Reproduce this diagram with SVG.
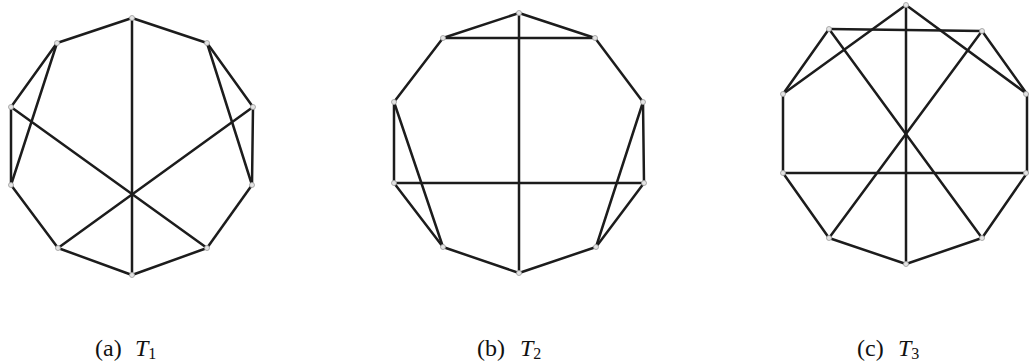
<svg xmlns="http://www.w3.org/2000/svg" width="1029" height="363" viewBox="0 0 1029 363">
<style>
.e{stroke:#1c1c1c;stroke-width:2.5;stroke-linecap:round;fill:none}
.v{fill:#e4e4e4;stroke:#9a9a9a;stroke-width:0.8}
.lab{font-family:"Liberation Serif","DejaVu Serif",serif;font-size:24px;fill:#111}
.it{font-style:italic}
.sub{font-size:16px}
</style>
<rect width="1029" height="363" fill="#fff"/>
<g id="connectors">
<g id="t1-edges">
<line class="e" x1="132" y1="18" x2="207" y2="43"/>
<line class="e" x1="207" y1="43" x2="253" y2="107"/>
<line class="e" x1="253" y1="107" x2="252" y2="185"/>
<line class="e" x1="252" y1="185" x2="207" y2="248"/>
<line class="e" x1="207" y1="248" x2="132" y2="275"/>
<line class="e" x1="132" y1="275" x2="58" y2="248"/>
<line class="e" x1="58" y1="248" x2="11" y2="185"/>
<line class="e" x1="11" y1="185" x2="11" y2="107"/>
<line class="e" x1="11" y1="107" x2="57" y2="43"/>
<line class="e" x1="57" y1="43" x2="132" y2="18"/>
<line class="e" x1="132" y1="18" x2="132" y2="275"/>
<line class="e" x1="57" y1="43" x2="11" y2="185"/>
<line class="e" x1="207" y1="43" x2="252" y2="185"/>
<line class="e" x1="11" y1="107" x2="207" y2="248"/>
<line class="e" x1="253" y1="107" x2="58" y2="248"/>
</g>
<g id="t2-edges">
<line class="e" x1="519" y1="13" x2="595" y2="38"/>
<line class="e" x1="595" y1="38" x2="643" y2="102"/>
<line class="e" x1="643" y1="102" x2="644" y2="183"/>
<line class="e" x1="644" y1="183" x2="596" y2="247"/>
<line class="e" x1="596" y1="247" x2="519" y2="273"/>
<line class="e" x1="519" y1="273" x2="443" y2="247"/>
<line class="e" x1="443" y1="247" x2="394" y2="183"/>
<line class="e" x1="394" y1="183" x2="394" y2="102"/>
<line class="e" x1="394" y1="102" x2="443" y2="38"/>
<line class="e" x1="443" y1="38" x2="519" y2="13"/>
<line class="e" x1="443" y1="38" x2="595" y2="38"/>
<line class="e" x1="519" y1="13" x2="519" y2="273"/>
<line class="e" x1="394" y1="183" x2="644" y2="183"/>
<line class="e" x1="394" y1="102" x2="443" y2="247"/>
<line class="e" x1="643" y1="102" x2="596" y2="247"/>
</g>
<g id="t3-edges">
<line class="e" x1="906" y1="5" x2="783" y2="94"/>
<line class="e" x1="906" y1="5" x2="1027" y2="94"/>
<line class="e" x1="906" y1="5" x2="906" y2="264"/>
<line class="e" x1="829" y1="29" x2="982" y2="31"/>
<line class="e" x1="829" y1="29" x2="783" y2="94"/>
<line class="e" x1="982" y1="31" x2="1027" y2="94"/>
<line class="e" x1="783" y1="94" x2="783" y2="173"/>
<line class="e" x1="1027" y1="94" x2="1027" y2="173"/>
<line class="e" x1="783" y1="173" x2="1027" y2="173"/>
<line class="e" x1="783" y1="173" x2="829" y2="238"/>
<line class="e" x1="1027" y1="173" x2="982" y2="238"/>
<line class="e" x1="829" y1="238" x2="906" y2="264"/>
<line class="e" x1="906" y1="264" x2="982" y2="238"/>
<line class="e" x1="829" y1="29" x2="982" y2="238"/>
<line class="e" x1="982" y1="31" x2="829" y2="238"/>
</g>
</g>
<g id="t1-v0"><circle class="v" cx="132" cy="18" r="2.5"/></g>
<g id="t1-v1"><circle class="v" cx="207" cy="43" r="2.5"/></g>
<g id="t1-v2"><circle class="v" cx="253" cy="107" r="2.5"/></g>
<g id="t1-v3"><circle class="v" cx="252" cy="185" r="2.5"/></g>
<g id="t1-v4"><circle class="v" cx="207" cy="248" r="2.5"/></g>
<g id="t1-v5"><circle class="v" cx="132" cy="275" r="2.5"/></g>
<g id="t1-v6"><circle class="v" cx="58" cy="248" r="2.5"/></g>
<g id="t1-v7"><circle class="v" cx="11" cy="185" r="2.5"/></g>
<g id="t1-v8"><circle class="v" cx="11" cy="107" r="2.5"/></g>
<g id="t1-v9"><circle class="v" cx="57" cy="43" r="2.5"/></g>
<g id="t2-v0"><circle class="v" cx="519" cy="13" r="2.5"/></g>
<g id="t2-v1"><circle class="v" cx="595" cy="38" r="2.5"/></g>
<g id="t2-v2"><circle class="v" cx="643" cy="102" r="2.5"/></g>
<g id="t2-v3"><circle class="v" cx="644" cy="183" r="2.5"/></g>
<g id="t2-v4"><circle class="v" cx="596" cy="247" r="2.5"/></g>
<g id="t2-v5"><circle class="v" cx="519" cy="273" r="2.5"/></g>
<g id="t2-v6"><circle class="v" cx="443" cy="247" r="2.5"/></g>
<g id="t2-v7"><circle class="v" cx="394" cy="183" r="2.5"/></g>
<g id="t2-v8"><circle class="v" cx="394" cy="102" r="2.5"/></g>
<g id="t2-v9"><circle class="v" cx="443" cy="38" r="2.5"/></g>
<g id="t3-v0"><circle class="v" cx="906" cy="5" r="2.5"/></g>
<g id="t3-v1"><circle class="v" cx="982" cy="31" r="2.5"/></g>
<g id="t3-v2"><circle class="v" cx="1026" cy="94" r="2.5"/></g>
<g id="t3-v3"><circle class="v" cx="1026" cy="173" r="2.5"/></g>
<g id="t3-v4"><circle class="v" cx="982" cy="238" r="2.5"/></g>
<g id="t3-v5"><circle class="v" cx="906" cy="264" r="2.5"/></g>
<g id="t3-v6"><circle class="v" cx="829" cy="238" r="2.5"/></g>
<g id="t3-v7"><circle class="v" cx="783" cy="173" r="2.5"/></g>
<g id="t3-v8"><circle class="v" cx="783" cy="94" r="2.5"/></g>
<g id="t3-v9"><circle class="v" cx="829" cy="29" r="2.5"/></g>
<g id="caption-a"><text class="lab" x="95" y="356">(a)</text><text class="lab" y="356"><tspan class="it" x="135">T</tspan><tspan class="sub" dy="3">1</tspan></text></g>
<g id="caption-b"><text class="lab" x="477" y="356">(b)</text><text class="lab" y="356"><tspan class="it" x="520">T</tspan><tspan class="sub" dy="3">2</tspan></text></g>
<g id="caption-c"><text class="lab" x="857" y="356">(c)</text><text class="lab" y="356"><tspan class="it" x="898">T</tspan><tspan class="sub" dy="3">3</tspan></text></g>
</svg>
